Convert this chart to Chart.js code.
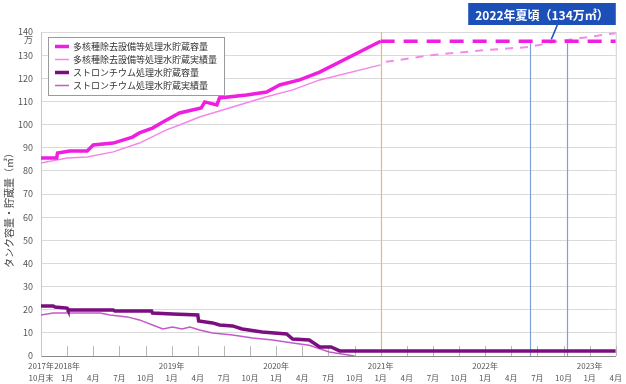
<!DOCTYPE html>
<html>
<head>
 <meta charset="UTF-8">
 <title>タンク容量・貯蔵量</title>
 <script src="https://cdn.jsdelivr.net/npm/chart.js@4.4.0/dist/chart.umd.min.js"></script>
 <style>
  body { margin: 0; background: #fff; }
  #wrap { width: 626px; height: 384px; }
 </style>
</head>
<body>
<div id="wrap"><canvas id="myChart"></canvas></div>
<script>
 // x = months counted from 2017年10月 (0) to 2023年4月 (66); y = 万㎥
 var seriesNames = ["多核種除去設備等処理水貯蔵容量", "多核種除去設備等処理水貯蔵実績量",
                    "ストロンチウム処理水貯蔵容量", "ストロンチウム処理水貯蔵実績量"];

 var alpsCapMonths = [0, 1.8, 1.9, 3.3, 5.3, 6.0, 8.3, 10.5, 11.3, 12.8, 14.0, 15.9, 18.4, 18.8, 20.2, 20.5, 23.6, 25.9, 27.4, 29.7, 32.0, 39.0];
 var alpsCapValues = [85.6, 85.6, 87.7, 88.6, 88.6, 91.2, 92.0, 94.6, 96.4, 98.5, 101.1, 105.0, 107.2, 109.8, 108.5, 111.5, 112.8, 114.1, 117.1, 119.3, 122.7, 136.0];
 var alpsCapPlanMonths = [39.0, 66];
 var alpsCapPlanValues = [136.0, 136.0];

 var alpsStoredMonths = [0, 3.0, 5.3, 8.3, 11.3, 14.4, 15.9, 18.2, 22.0, 25.9, 28.9, 32.0, 39.0];
 var alpsStoredValues = [83.4, 85.6, 86.0, 88.2, 92.0, 97.7, 99.8, 103.3, 107.6, 112.0, 115.0, 119.3, 125.8];
 var alpsStoredPlanMonths = [39.6, 44.8, 51.0, 56.0, 59.0, 66];
 var alpsStoredPlanValues = [127.1, 130.0, 132.2, 133.5, 135.8, 139.5];

 var srCapMonths = [0, 1.4, 1.6, 3.0, 3.1, 8.3, 8.5, 12.7, 12.8, 15.1, 18.0, 18.1, 19.7, 20.5, 22.0, 23.1, 25.4, 28.2, 28.9, 30.8, 32.0, 33.3, 34.3, 66];
 var srCapValues = [21.6, 21.6, 21.2, 20.7, 19.9, 19.9, 19.4, 19.4, 18.6, 18.2, 17.7, 15.1, 14.3, 13.4, 13.0, 11.7, 10.4, 9.5, 7.3, 6.9, 3.9, 3.9, 2.2, 2.2];

 var srStoredMonths = [0, 1.4, 3.0, 6.8, 7.9, 9.9, 11.3, 12.8, 14.0, 15.1, 16.2, 17.1, 18.2, 19.7, 22.0, 24.3, 26.6, 28.9, 30.8, 33.1, 36.0];
 var srStoredValues = [17.7, 18.6, 18.6, 18.6, 17.7, 16.9, 15.6, 13.4, 11.7, 12.5, 11.7, 12.5, 11.2, 9.9, 9.1, 7.8, 6.9, 5.6, 4.6, 1.7, 0];

 var tickYears  = ["2017年", "2018年", "", "", "", "2019年", "", "", "", "2020年", "", "", "", "2021年", "", "", "", "2022年", "", "", "", "2023年", ""];
 var tickMonths = ["10月末", "1月", "4月", "7月", "10月", "1月", "4月", "7月", "10月", "1月", "4月", "7月", "10月", "1月", "4月", "7月", "10月", "1月", "4月", "7月", "10月", "1月", "4月"];

 var markerMonths = [39.0, 56.1, 60.4];
 var markerColors = ["#f4b27a", "#7e9fd8", "#7e9fd8"];
 var calloutText = "2022年夏頃（134万㎥）";
 var calloutMonth = 58.6;
 var calloutValue = 136.0;

 function pts(xs, ys)
 {
  var out = [];
  for (var i = 0; i < xs.length; i++) out.push({ x: xs[i], y: ys[i] });
  return out;
 }

 var jpFont = "'Noto Sans CJK JP', 'Noto Sans', sans-serif";

 // custom drawing: y title, unit, inner ticks, marker lines, legend, callout
 var extras = {
  id: "extras",
  beforeDatasetsDraw: function(chart)
  {
   var ctx = chart.ctx, a = chart.chartArea, xs = chart.scales.x, ys = chart.scales.y;
   ctx.save();
   for (var i = 0; i < markerMonths.length; i++)
   {
    var px = Math.round(xs.getPixelForValue(markerMonths[i])) + 0.5;
    ctx.strokeStyle = markerColors[i];
    ctx.lineWidth = 1.2;
    ctx.beginPath();
    ctx.moveTo(px, i == 0 ? a.top : ys.getPixelForValue(calloutValue));
    ctx.lineTo(px, a.bottom);
    ctx.stroke();
   }
   // frame on the right
   ctx.strokeStyle = "#d0d0d0";
   ctx.lineWidth = 1;
   ctx.beginPath();
   ctx.moveTo(a.right + 0.5, a.top);
   ctx.lineTo(a.right + 0.5, a.bottom);
   ctx.stroke();
   // short ticks inside the plot
   ctx.strokeStyle = "#b8b8b8";
   for (var m = 3; m <= 66; m += 3)
   {
    var tx = Math.round(xs.getPixelForValue(m)) + 0.5;
    ctx.beginPath();
    ctx.moveTo(tx, a.bottom - 10);
    ctx.lineTo(tx, a.bottom);
    ctx.stroke();
   }
   ctx.restore();
  },
  afterDraw: function(chart)
  {
   var ctx = chart.ctx, a = chart.chartArea, xs = chart.scales.x, ys = chart.scales.y;
   ctx.save();
   // y axis title
   ctx.translate(9, 208);
   ctx.rotate(-Math.PI / 2);
   ctx.fillStyle = "#444";
   ctx.font = "10px " + jpFont;
   ctx.textAlign = "center";
   ctx.textBaseline = "middle";
   ctx.fillText("タンク容量・貯蔵量（㎥）", 0, 0);
   ctx.restore();

   ctx.save();
   ctx.fillStyle = "#555";
   ctx.font = "9px " + jpFont;
   ctx.textAlign = "right";
   ctx.textBaseline = "middle";
   ctx.fillText("万", 33, ys.getPixelForValue(140) + 8);

   // legend
   var ds = chart.data.datasets;
   ctx.font = "9px " + jpFont;
   var maxW = 0;
   for (var i = 0; i < 4; i++) maxW = Math.max(maxW, ctx.measureText(ds[i].label).width);
   var bx = a.left + 7, by = a.top + 5, bw = maxW + 32, bh = 58;
   ctx.fillStyle = "#fff";
   ctx.fillRect(bx, by, bw, bh);
   ctx.strokeStyle = "#9a9a9a";
   ctx.lineWidth = 1;
   ctx.strokeRect(bx + 0.5, by + 0.5, bw, bh);
   for (var i = 0; i < 4; i++)
   {
    var ry = by + 9.5 + i * 13;
    ctx.strokeStyle = ds[i].borderColor;
    ctx.lineWidth = ds[i].borderWidth;
    ctx.beginPath();
    ctx.moveTo(bx + 7, ry);
    ctx.lineTo(bx + 21, ry);
    ctx.stroke();
    ctx.fillStyle = "#333";
    ctx.textAlign = "left";
    ctx.textBaseline = "middle";
    ctx.fillText(ds[i].label, bx + 25, ry + 0.5);
   }

   // callout
   var tipX = xs.getPixelForValue(calloutMonth), tipY = ys.getPixelForValue(calloutValue);
   ctx.font = "bold 12px " + jpFont;
   var tw = ctx.measureText(calloutText).width;
   var cw = tw + 14, ch = 22;
   var cx = a.right - cw, cy = 3;
   ctx.strokeStyle = "#1d4fb8";
   ctx.lineWidth = 1.6;
   ctx.beginPath();
   ctx.moveTo(tipX + 6, cy + ch);
   ctx.lineTo(tipX, tipY - 2);
   ctx.stroke();
   ctx.fillStyle = "#1d4fb8";
   ctx.fillRect(cx, cy, cw, ch);
   ctx.fillStyle = "#fff";
   ctx.textAlign = "center";
   ctx.textBaseline = "middle";
   ctx.fillText(calloutText, cx + cw / 2, cy + ch / 2 + 1);
   ctx.restore();
  }
 };

 var ctx = document.getElementById("myChart");
 var myChart = new Chart(ctx, {
  type: "line",
  data: {
   datasets: [
    { label: seriesNames[0], data: pts(alpsCapMonths, alpsCapValues), borderColor: "#f01ee0", borderWidth: 3.5 },
    { label: seriesNames[1], data: pts(alpsStoredMonths, alpsStoredValues), borderColor: "#f585ea", borderWidth: 1.5 },
    { label: seriesNames[2], data: pts(srCapMonths, srCapValues), borderColor: "#7b0f80", borderWidth: 3.5 },
    { label: seriesNames[3], data: pts(srStoredMonths, srStoredValues), borderColor: "#c45ac8", borderWidth: 1.5 },
    { label: "plan1", data: pts(alpsCapPlanMonths, alpsCapPlanValues), borderColor: "#f01ee0", borderWidth: 3.5, borderDash: [14, 9] },
    { label: "plan2", data: pts(alpsStoredPlanMonths, alpsStoredPlanValues), borderColor: "#f38be8", borderWidth: 2, borderDash: [8, 7] }
   ]
  },
  options: {
   responsive: true,
   maintainAspectRatio: false,
   animation: false,
   layout: { padding: { top: 32, right: 9, left: 0, bottom: 0 } },
   elements: { point: { radius: 0 }, line: { tension: 0, fill: false } },
   plugins: { legend: { display: false }, tooltip: { enabled: false } },
   scales: {
    x: {
     type: "linear", min: 0, max: 66,
     afterFit: function(s) { s.height = 28; },
     grid: { display: false, drawTicks: false, tickLength: 0 },
     border: { color: "#8a8a8a", width: 1 },
     ticks: {
      stepSize: 3, autoSkip: false, maxRotation: 0, padding: 4,
      color: "#555", font: { size: 8, family: jpFont, lineHeight: 1.5 },
      callback: function(v) { var i = Math.round(v / 3); return [tickYears[i], tickMonths[i]]; }
     }
    },
    y: {
     min: 0, max: 140,
     afterFit: function(s) { s.width = 41; },
     grid: { color: "#dadada", drawTicks: false },
     border: { color: "#c8c8c8" },
     ticks: { stepSize: 10, padding: 8, color: "#555", font: { size: 9, family: jpFont } }
    }
   }
  },
  plugins: [extras]
 });
</script>
</body>
</html>
